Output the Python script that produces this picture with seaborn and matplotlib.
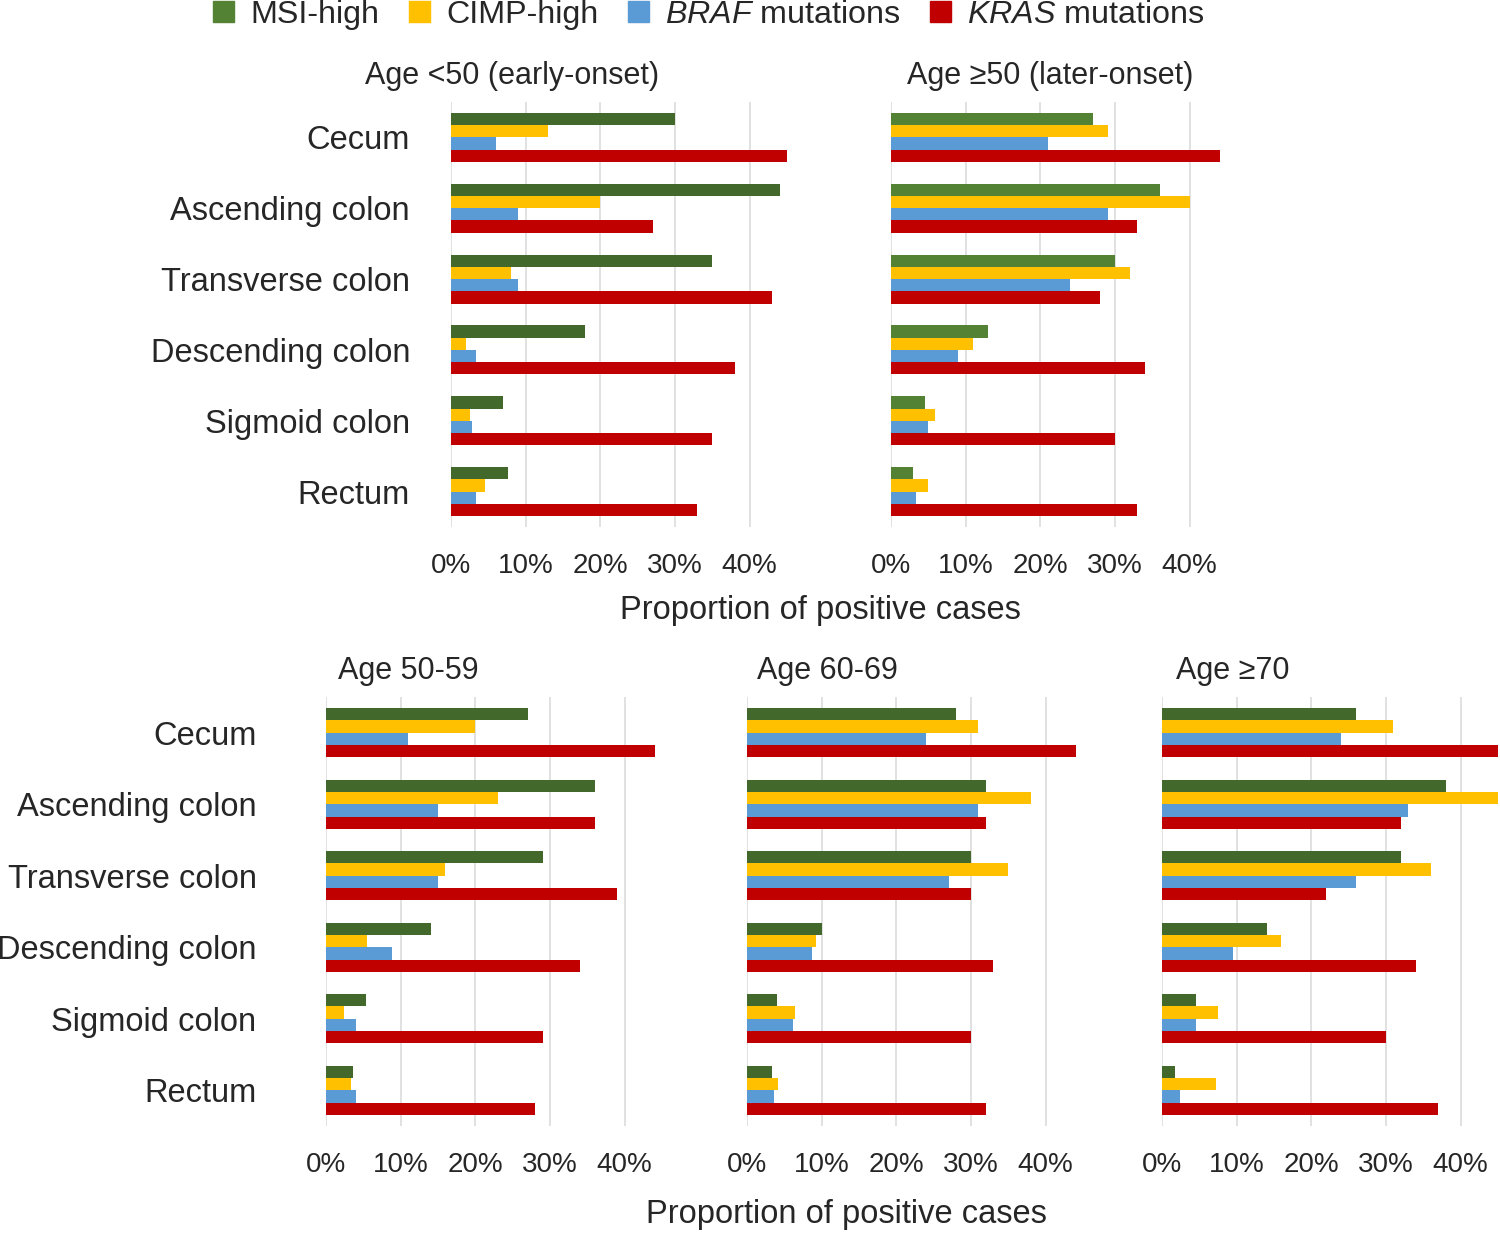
import seaborn as sns
import matplotlib.pyplot as plt
import pandas as pd
from matplotlib.patches import Patch

sites = ['Cecum', 'Ascending colon', 'Transverse colon',
         'Descending colon', 'Sigmoid colon', 'Rectum']
markers = ['MSI-high', 'CIMP-high', 'BRAF mutations', 'KRAS mutations']
legend_labels = ['MSI-high', 'CIMP-high',
                 r'$\it{BRAF}$ mutations', r'$\it{KRAS}$ mutations']

# Age <50 (early-onset), % positive
lt50_msi = [30, 44, 35, 18, 6.9, 7.7]
lt50_cimp = [13, 20, 8, 2, 2.6, 4.5]
lt50_braf = [6, 9, 9, 3.4, 2.8, 3.4]
lt50_kras = [45, 27, 43, 38, 35, 33]

# Age >=50 (later-onset)
ge50_msi = [27, 36, 30, 13, 4.5, 2.9]
ge50_cimp = [29, 40, 32, 11, 5.9, 5]
ge50_braf = [21, 29, 24, 9, 5, 3.3]
ge50_kras = [44, 33, 28, 34, 30, 33]

# Age 50-59
a50_msi = [27, 36, 29, 14, 5.3, 3.6]
a50_cimp = [20, 23, 16, 5.5, 2.4, 3.3]
a50_braf = [11, 15, 15, 8.8, 4, 4]
a50_kras = [44, 36, 39, 34, 29, 28]

# Age 60-69
a60_msi = [28, 32, 30, 10, 4, 3.3]
a60_cimp = [31, 38, 35, 9.3, 6.4, 4.2]
a60_braf = [24, 31, 27, 8.7, 6.1, 3.6]
a60_kras = [44, 32, 30, 33, 30, 32]

# Age >=70
a70_msi = [26, 38, 32, 14, 4.5, 1.7]
a70_cimp = [31, 46, 36, 16, 7.5, 7.2]
a70_braf = [24, 33, 26, 9.5, 4.5, 2.4]
a70_kras = [46, 32, 22, 34, 30, 37]

dark_green = '#43682b'
light_green = '#548235'
yellow = '#ffc000'
blue = '#5b9bd5'
red = '#c00000'

sns.set_style('white')
plt.rcParams['font.family'] = ['Liberation Sans', 'DejaVu Sans']
plt.rcParams['mathtext.fontset'] = 'custom'
plt.rcParams['mathtext.rm'] = 'Liberation Sans'
plt.rcParams['mathtext.it'] = 'Liberation Sans:italic'

W, H = 1500, 1233
FS_CAT = 23.5
FS_TICK = 20
FS_TITLE = 22
FS_LEG = 23.2


def px_rect(x0, y0, x1, y1):
    return [x0 / W, 1 - y1 / H, (x1 - x0) / W, (y1 - y0) / H]


fig = plt.figure(figsize=(15, 12.33), dpi=100)

panels = [
    ('Age <50 (early-onset)', [lt50_msi, lt50_cimp, lt50_braf, lt50_kras],
     px_rect(451, 102, 787, 527), dark_green, 29.5, (512, 76, 'center')),
    ('Age \u226550 (later-onset)', [ge50_msi, ge50_cimp, ge50_braf, ge50_kras],
     px_rect(891, 102, 1227, 527), light_green, None, (1050, 76, 'center')),
    ('Age 50-59', [a50_msi, a50_cimp, a50_braf, a50_kras],
     px_rect(326, 697, 662, 1126), dark_green, 50, (338, 671, 'left')),
    ('Age 60-69', [a60_msi, a60_cimp, a60_braf, a60_kras],
     px_rect(747, 697, 1083, 1126), dark_green, None, (757, 671, 'left')),
    ('Age \u226570', [a70_msi, a70_cimp, a70_braf, a70_kras],
     px_rect(1162, 697, 1498, 1126), dark_green, None, (1176, 671, 'left')),
]

for title, series, rect, green, ypad, (tx, ty, tha) in panels:
    df = pd.DataFrame({
        'site': sites * 4,
        'marker': [m for m in markers for _ in sites],
        'value': [v for s in series for v in s],
    })
    ax = fig.add_axes(rect)
    sns.barplot(data=df, x='value', y='site', hue='marker', hue_order=markers,
                order=sites, palette=[green, yellow, blue, red], orient='h',
                width=0.69, linewidth=0, saturation=1, legend=False, ax=ax)
    ax.set_xlim(0, 45)
    ax.set_xticks([0, 10, 20, 30, 40])
    ax.set_xticklabels([f'{t}%' for t in [0, 10, 20, 30, 40]])
    ax.grid(axis='x', color='#dedede', linewidth=1.3)
    ax.set_axisbelow(True)
    sns.despine(ax=ax, left=True, bottom=True)
    ax.set_xlabel('')
    ax.set_ylabel('')
    ax.tick_params(axis='x', length=0, labelsize=FS_TICK, pad=19)
    if ypad is None:
        ax.tick_params(axis='y', length=0, labelleft=False)
    else:
        ax.tick_params(axis='y', length=0, labelsize=FS_CAT, pad=ypad)
    fig.text(tx / W, 1 - ty / H, title, fontsize=FS_TITLE, ha=tha, va='center')

fig.text(820 / W, 1 - 611 / H, 'Proportion of positive cases',
         fontsize=FS_CAT, ha='center', va='center')
fig.text(846 / W, 1 - 1215 / H, 'Proportion of positive cases',
         fontsize=FS_CAT, ha='center', va='center')

handles = [Patch(color=c) for c in [light_green, yellow, blue, red]]
fig.legend(handles, legend_labels, loc='center', ncol=4, frameon=False,
           bbox_to_anchor=(709 / W, 1 - 15 / H), fontsize=FS_LEG,
           handlelength=0.65, handleheight=0.65, handletextpad=0.5,
           columnspacing=0.92, borderpad=0)

fig.savefig('out.png', dpi=100)
